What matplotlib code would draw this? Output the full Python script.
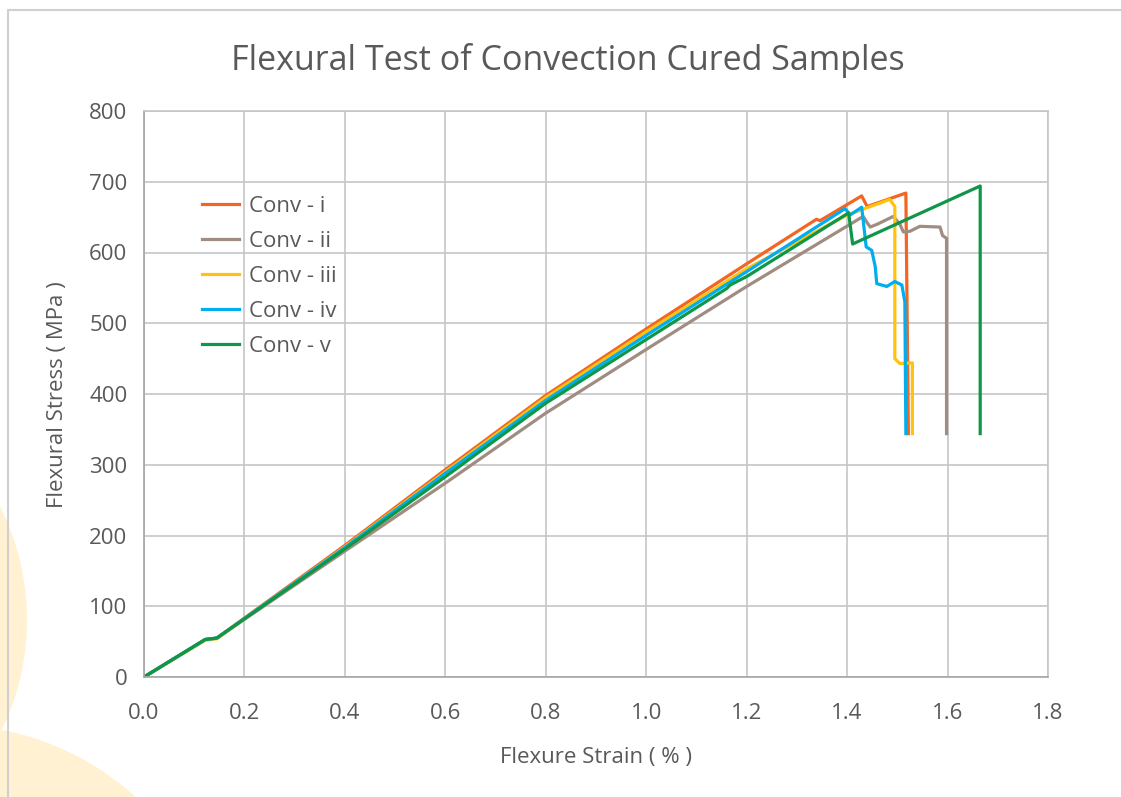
import matplotlib
matplotlib.use("Agg")
import matplotlib.pyplot as plt
from matplotlib.patches import Ellipse
from matplotlib.lines import Line2D

plt.rcParams['font.family'] = ['Open Sans', 'DejaVu Sans']

# strain (%) and stress (MPa)
strain_i = [0, 0.122, 0.145, 0.4, 0.6, 0.8, 1.0, 1.2, 1.339, 1.346, 1.429, 1.440, 1.517, 1.522]
stress_i = [0, 53, 55, 186, 293, 398, 492, 584, 647, 645, 680, 665, 684, 344]

strain_ii = [0, 0.122, 0.145, 0.4, 0.6, 0.8, 1.0, 1.2, 1.432, 1.440, 1.446, 1.46, 1.492,
             1.505, 1.512, 1.525, 1.545, 1.585, 1.590, 1.598, 1.598]
stress_ii = [0, 53, 55, 178, 274, 373, 463, 552, 651, 642, 636, 640, 651,
             640, 629, 630, 637, 636, 624, 620, 344]

strain_iii = [0, 0.122, 0.145, 0.4, 0.6, 0.8, 1.0, 1.2, 1.4, 1.485, 1.495, 1.495, 1.505, 1.530, 1.530]
stress_iii = [0, 52, 54, 184, 290, 395, 488, 577, 653, 675, 665, 450, 443, 444, 344]

strain_iv = [0, 0.122, 0.145, 0.4, 0.6, 0.8, 1.0, 1.2, 1.396, 1.406, 1.429, 1.438, 1.449,
             1.456, 1.459, 1.479, 1.495, 1.509, 1.515, 1.517]
stress_iv = [0, 53, 55, 183, 288, 391, 483, 573, 662, 653, 664, 608, 603,
             580, 556, 552, 559, 554, 530, 344]

strain_v = [0, 0.122, 0.145, 0.4, 0.6, 0.8, 1.0, 1.16, 1.167, 1.2, 1.403, 1.411, 1.665, 1.665]
stress_v = [0, 53, 55, 181, 283, 387, 477, 549, 554, 566, 656, 612, 694, 344]

labels = ['Conv - i', 'Conv - ii', 'Conv - iii', 'Conv - iv', 'Conv - v']
colors = ['#f26522', '#a08d82', '#ffc20e', '#00aeef', '#0f9648']

W, H = 1121, 797
fig = plt.figure(figsize=(W / 100, H / 100), dpi=100)

# pale background circles and frame
def circ(cx, cy, r):
    return Ellipse((cx / W, 1 - cy / H), 2 * r / W, 2 * r / H, transform=fig.transFigure,
                   facecolor='#fff1d2', edgecolor='none', zorder=0)
fig.patches.append(circ(-225, 620, 252))
fig.patches.append(circ(-50, 1000, 275))
fig.lines.append(Line2D([8 / W, 1], [1 - 10 / H, 1 - 10 / H], transform=fig.transFigure,
                        color='#d0d0d0', lw=1.5))
fig.lines.append(Line2D([8 / W, 8 / W], [0, 1 - 10 / H], transform=fig.transFigure,
                        color='#d0d0d0', lw=1.5))

ax = fig.add_axes([144 / W, 1 - 677 / H, (1048 - 144) / W, (677 - 111) / H])
ax.patch.set_alpha(0)

data = [(strain_i, stress_i), (strain_ii, stress_ii), (strain_iii, stress_iii),
        (strain_iv, stress_iv), (strain_v, stress_v)]
for (x, y), lab, c in zip(data, labels, colors):
    ax.plot(x, y, color=c, lw=2.3, label=lab, solid_joinstyle='round')

ax.set_xlim(0, 1.8)
ax.set_ylim(0, 800)
ax.set_xticks([0, 0.2, 0.4, 0.6, 0.8, 1.0, 1.2, 1.4, 1.6, 1.8])
ax.set_xticklabels(['0.0', '0.2', '0.4', '0.6', '0.8', '1.0', '1.2', '1.4', '1.6', '1.8'])
ax.set_yticks(range(0, 801, 100))
ax.grid(True, color='#c6c6c6', lw=1.2)
ax.set_axisbelow(True)
for s in ax.spines.values():
    s.set_color('#c6c6c6')
    s.set_linewidth(1.2)
ax.spines['left'].set_color('#a6a6a6')
ax.spines['bottom'].set_color('#a6a6a6')
ax.tick_params(axis='both', length=0, labelsize=16, colors='#595959')
ax.tick_params(axis='y', pad=12)
ax.tick_params(axis='x', pad=19)

fig.text(568 / W, 1 - 60 / H, 'Flexural Test of Convection Cured Samples',
         ha='center', va='center', fontsize=24.5, color='#595959')
fig.text(596 / W, 1 - 758 / H, 'Flexure Strain ( % )', ha='center', va='center',
         fontsize=16, color='#595959')
fig.text(58 / W, 1 - 395 / H, 'Flexural Stress ( MPa )', ha='center', va='center',
         rotation=90, fontsize=16, color='#595959')

leg = ax.legend(loc='upper left', bbox_to_anchor=(0.064, 0.850), frameon=False,
                fontsize=16, handlelength=1.67, handletextpad=0.45, labelspacing=0.63,
                borderaxespad=0, borderpad=0)
for t in leg.get_texts():
    t.set_color('#595959')

fig.savefig('out.png', dpi=100)
